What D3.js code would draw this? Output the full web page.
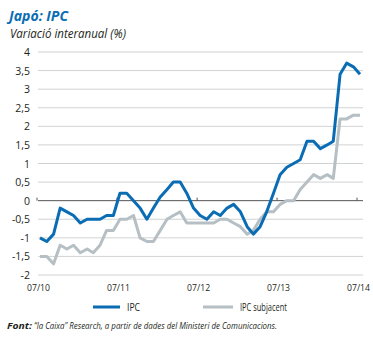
<!DOCTYPE html>
<html>
<head>
<meta charset="utf-8">
<script src="https://cdn.jsdelivr.net/npm/d3@7/dist/d3.min.js"></script>
<style>
	body { margin: 0; background: #fff; }
	svg { display: block; font-family: 'Open Sans', 'Noto Sans', sans-serif; }
</style>
</head>
<body>
<svg id="chart" width="373" height="338"></svg>
<script>
// monthly data, 07/2010 .. 07/2014
const startMonth = new Date(2010, 6, 1)
const ipc = [
	-1.0, -1.1, -0.9, -0.2, -0.3, -0.4,
	-0.6, -0.5, -0.5, -0.5, -0.4, -0.4, 0.2, 0.2, 0.0, -0.2, -0.5, -0.2,
	0.1, 0.3, 0.5, 0.5, 0.2, -0.2, -0.4, -0.5, -0.3, -0.4, -0.2, -0.1,
	-0.3, -0.7, -0.9, -0.7, -0.3, 0.2, 0.7, 0.9, 1.0, 1.1, 1.6, 1.6,
	1.4, 1.5, 1.6, 3.4, 3.7, 3.6, 3.4,
]
const ipcCore = [
	-1.5, -1.5, -1.7, -1.2, -1.3, -1.2,
	-1.4, -1.3, -1.4, -1.2, -0.8, -0.8, -0.5, -0.5, -0.4, -1.0, -1.1, -1.1,
	-0.8, -0.5, -0.4, -0.3, -0.6, -0.6, -0.6, -0.6, -0.6, -0.5, -0.5, -0.6,
	-0.7, -0.9, -0.8, -0.5, -0.3, -0.3, -0.1, 0.0, 0.0, 0.3, 0.5, 0.7,
	0.6, 0.7, 0.6, 2.2, 2.2, 2.3, 2.3,
]
const yTicks = [-2, -1.5, -1, -0.5, 0, 0.5, 1, 1.5, 2, 2.5, 3, 3.5, 4]
const xTickLabels = ['07/10', '07/11', '07/12', '07/13', '07/14']
const seriesNames = ['IPC', 'IPC subjacent']

const blue = '#0a6db4'
const grey = '#b5bfc4'
const text = '#231f20'

const svg = d3.select('#chart')

const months = ipc.map((d, i) => d3.timeMonth.offset(startMonth, i))

const x = d3.scaleTime().domain([startMonth, months[months.length - 1]]).range([40, 360])
const y = d3.scaleLinear().domain([-2, 4]).range([275, 52])

//Title and subtitle
svg.append('text')
	.attr('x', 9).attr('y', 21)
	.attr('fill', blue)
	.attr('textLength', 59)
	.attr('lengthAdjust', 'spacingAndGlyphs')
	.style('font-size', '15px').style('font-weight', 'bold').style('font-style', 'italic')
	.text('Japó: IPC')

svg.append('text')
	.attr('x', 10).attr('y', 38)
	.attr('fill', text)
	.attr('textLength', 116)
	.attr('lengthAdjust', 'spacingAndGlyphs')
	.style('font-size', '13px').style('font-style', 'italic')
	.text('Variació interanual (%)')

//Grid lines
svg.append('g')
	.selectAll('line')
	.data(yTicks)
	.join('line')
	.attr('x1', 38).attr('x2', 363)
	.attr('y1', d => y(d)).attr('y2', d => y(d))
	.attr('stroke', d => (d === 0 ? '#555' : '#d0d3d4'))

//Y axis labels
svg.append('g')
	.selectAll('text')
	.data(yTicks)
	.join('text')
	.attr('x', 30)
	.attr('y', d => y(d))
	.attr('text-anchor', 'end')
	.attr('dominant-baseline', 'central')
	.attr('fill', text)
	.style('font-size', '10.5px')
	.text(d => String(d).replace('.', ','))

//X ticks and labels
const tickDates = xTickLabels.map((d, i) => d3.timeYear.offset(startMonth, i))

svg.append('g')
	.selectAll('line')
	.data(tickDates)
	.join('line')
	.attr('x1', d => x(d) - 3).attr('x2', d => x(d) - 3)
	.attr('y1', y(0) - 3).attr('y2', y(0))
	.attr('stroke', '#555')

svg.append('g')
	.selectAll('text')
	.data(tickDates)
	.join('text')
	.attr('x', d => x(d) - 1.5)
	.attr('y', 287)
	.attr('text-anchor', 'middle')
	.attr('dominant-baseline', 'central')
	.attr('textLength', 23)
	.attr('lengthAdjust', 'spacingAndGlyphs')
	.attr('fill', text)
	.style('font-size', '9.5px')
	.text((d, i) => xTickLabels[i])

//Lines
const line = d3.line()
	.x((d, i) => x(months[i]))
	.y(d => y(d))

svg.append('path')
	.datum(ipcCore)
	.attr('d', line)
	.attr('fill', 'none')
	.attr('stroke', grey)
	.attr('stroke-width', 3)
	.attr('stroke-linejoin', 'round')

svg.append('path')
	.datum(ipc)
	.attr('d', line)
	.attr('fill', 'none')
	.attr('stroke', blue)
	.attr('stroke-width', 3)
	.attr('stroke-linejoin', 'round')

//Legend
const legend = svg.append('g')
	.selectAll('g')
	.data(seriesNames)
	.join('g')
	.attr('transform', (d, i) => 'translate(' + [93, 203][i] + ',307)')

legend.append('line')
	.attr('x1', 0).attr('x2', (d, i) => [27, 30][i])
	.attr('stroke', (d, i) => [blue, grey][i])
	.attr('stroke-width', 3)

legend.append('text')
	.attr('x', (d, i) => [34, 37][i])
	.attr('dominant-baseline', 'central')
	.attr('textLength', (d, i) => [13, 47][i])
	.attr('lengthAdjust', 'spacingAndGlyphs')
	.attr('fill', text)
	.style('font-size', '10px')
	.text(d => d)

//Source, in two pieces so each can be fitted
svg.append('text')
	.attr('x', 7).attr('y', 329)
	.attr('fill', text)
	.attr('textLength', 25)
	.attr('lengthAdjust', 'spacingAndGlyphs')
	.style('font-size', '9.5px').style('font-style', 'italic').style('font-weight', 'bold')
	.text('Font:')

svg.append('text')
	.attr('x', 34).attr('y', 329)
	.attr('fill', text)
	.attr('textLength', 243)
	.attr('lengthAdjust', 'spacingAndGlyphs')
	.style('font-size', '9.5px').style('font-style', 'italic')
	.text('“la Caixa” Research, a partir de dades del Ministeri de Comunicacions.')
</script>
</body>
</html>
